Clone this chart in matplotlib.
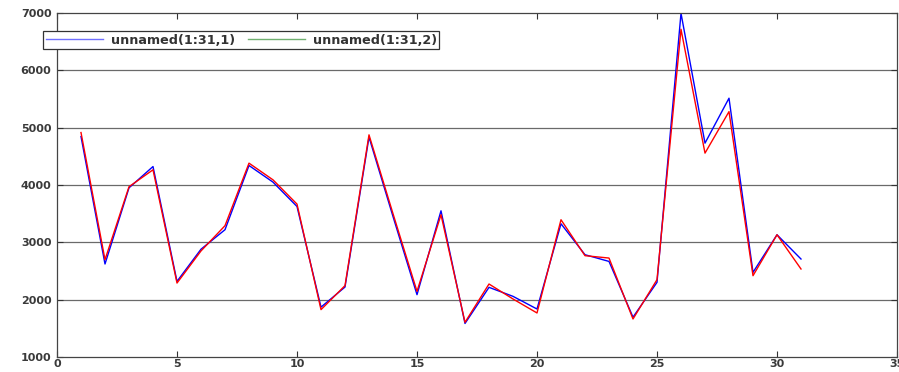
import matplotlib
matplotlib.use("Agg")
import matplotlib.pyplot as plt
from matplotlib.lines import Line2D

x = list(range(1, 32))
series1 = [4845, 2622, 3950, 4322, 2319, 2880, 3220, 4340, 4050, 3625,
           1870, 2220, 4835, 3450, 2087, 3550, 1585, 2215, 2058, 1837,
           3324, 2784, 2667, 1695, 2302, 6995, 4730, 5514, 2476, 3132, 2709]
series2 = [4915, 2697, 3970, 4265, 2290, 2850, 3290, 4381, 4090, 3667,
           1826, 2245, 4875, 3500, 2145, 3481, 1605, 2273, 2012, 1768,
           3394, 2767, 2726, 1663, 2349, 6716, 4556, 5280, 2418, 3132, 2535]
labels = ["unnamed(1:31,1)", "unnamed(1:31,2)"]
xticks = [0, 5, 10, 15, 20, 25, 30, 35]
yticks = [1000, 2000, 3000, 4000, 5000, 6000, 7000]

fig = plt.figure(figsize=(8.99, 3.72), dpi=100)
ax = fig.add_axes([57/899, 1-357/372, (897-57)/899, (357-13)/372])

ax.plot(x, series1, color="#0000ff", lw=1.0)
ax.plot(x, series2, color="#ff0000", lw=1.0)

ax.set_xlim(0, 35)
ax.set_ylim(1000, 7000)
ax.set_xticks(xticks)
ax.set_yticks(yticks)
ax.set_xticklabels([str(t) for t in xticks])
ax.set_yticklabels([str(t) for t in yticks])
for t in yticks[1:-1]:
    ax.axhline(t, color="#6a6a6a", lw=0.9, zorder=0)

ax.tick_params(direction="in", length=4, top=True, right=True,
               labelsize=8, colors="#333333")
ax.tick_params(axis="x", pad=1.5)
ax.tick_params(axis="y", pad=4)
for lab in ax.get_xticklabels() + ax.get_yticklabels():
    lab.set_fontweight("bold")
    lab.set_color("#3a3a3a")
for s in ax.spines.values():
    s.set_color("#444444")
    s.set_linewidth(0.9)

handles = [Line2D([], [], color="#6f6fff", lw=1.0),
           Line2D([], [], color="#70b070", lw=1.0)]
leg = ax.legend(handles, labels, ncol=2, loc="upper left",
                bbox_to_anchor=((43-57)/840, (357-31)/344),
                fancybox=False, framealpha=1, edgecolor="#333333",
                prop={"size": 9.2, "weight": "bold"}, handlelength=4.5,
                borderpad=0.2, columnspacing=1.0, handletextpad=0.6,
                borderaxespad=0)
leg.get_frame().set_linewidth(0.9)
for t in leg.get_texts():
    t.set_color("#333333")

fig.savefig("out.png", dpi=100)
